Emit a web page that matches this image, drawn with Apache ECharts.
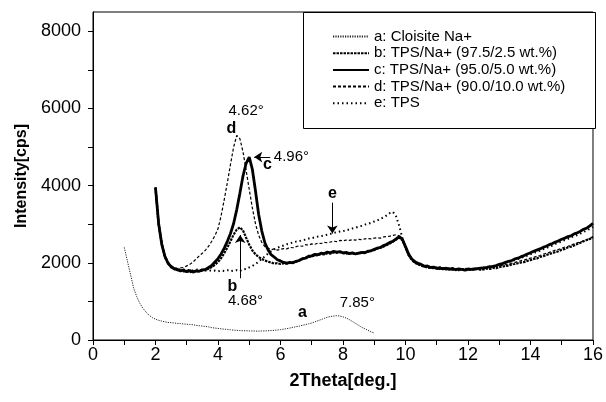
<!DOCTYPE html>
<html>
<head>
<meta charset="utf-8">
<script src="https://cdn.jsdelivr.net/npm/echarts@6/dist/echarts.min.js"></script>
<style>
  html, body { margin: 0; padding: 0; background: #fff; }
  #chart { width: 606px; height: 402px; }
</style>
</head>
<body>
<div id="chart"></div>
<script>
// XRD patterns of Cloisite Na+, TPS and TPS/Na+ composites
const seriesNames = [
  'a: Cloisite Na+',
  'b: TPS/Na+ (97.5/2.5 wt.%)',
  'c: TPS/Na+ (95.0/5.0 wt.%)',
  'd: TPS/Na+ (90.0/10.0 wt.%)',
  'e: TPS'
];

const xTicks = [0, 1, 2, 3, 4, 5, 6, 7, 8, 9, 10, 11, 12, 13, 14, 15, 16];
const xLabels = [0, 2, 4, 6, 8, 10, 12, 14, 16];
const yTicks = [0, 1000, 2000, 3000, 4000, 5000, 6000, 7000, 8000];
const yLabels = [0, 2000, 4000, 6000, 8000];

// a: Cloisite Na+, sampled every 0.1 deg from 1.0 to 9.0
const clayStart = 1.0, clayStep = 0.1;
const clay = [
  2400, 2050, 1700, 1350, 1120, 950, 820, 720, 640, 580,
  540, 510, 490, 470, 455, 450, 440, 430, 425, 415,
  410, 400, 395, 380, 370, 360, 350, 340, 320, 310,
  300, 290, 280, 275, 265, 255, 250, 245, 240, 240,
  235, 235, 230, 230, 235, 235, 240, 245, 250, 260,
  270, 280, 295, 310, 330, 345, 360, 380, 400, 420,
  440, 470, 500, 530, 560, 590, 610, 620, 630, 620,
  600, 570, 530, 480, 430, 380, 330, 290, 250, 210,
  180
];

// b-e: TPS based samples, every 0.1 deg from 2.0 to 16.0
const tpsStart = 2.0, tpsStep = 0.1;
const tpsNa25 = [
  3940, 3000, 2500, 2150, 2000, 1880, 1850, 1810, 1800, 1780,
  1790, 1760, 1780, 1770, 1800, 1790, 1820, 1850, 1890, 1950,
  2020, 2120, 2250, 2400, 2560, 2730, 2860, 2920, 2840, 2650,
  2470, 2320, 2220, 2150, 2100, 2060, 2030, 2010, 1980, 1990,
  1970, 1990, 1980, 2000, 2020, 2030, 2070, 2090, 2130, 2150,
  2170, 2190, 2200, 2230, 2220, 2250, 2240, 2270, 2260, 2280,
  2250, 2240, 2260, 2230, 2250, 2240, 2260, 2280, 2290, 2320,
  2330, 2370, 2390, 2420, 2460, 2500, 2550, 2600, 2650, 2590,
  2400, 2200, 2080, 2000, 1960, 1930, 1900, 1880, 1870, 1860,
  1880, 1840, 1860, 1830, 1850, 1820, 1840, 1810, 1830, 1820,
  1810, 1830, 1820, 1840, 1820, 1830, 1850, 1840, 1870, 1860,
  1890, 1900, 1920, 1930, 1960, 1970, 1990, 2010, 2020, 2050,
  2070, 2100, 2110, 2150, 2170, 2200, 2230, 2250, 2280, 2300,
  2340, 2360, 2400, 2420, 2450, 2490, 2520, 2560, 2590, 2620,
  2660
];
const tpsNa50 = [
  3950, 3020, 2480, 2170, 1990, 1900, 1840, 1830, 1790, 1810,
  1770, 1800, 1760, 1790, 1780, 1820, 1830, 1880, 1930, 2020,
  2110, 2230, 2380, 2560, 2760, 3020, 3380, 3800, 4250, 4580,
  4740, 4420, 3860, 3260, 2830, 2520, 2340, 2210, 2150, 2080,
  2050, 2010, 1990, 2010, 2000, 2040, 2060, 2110, 2120, 2170,
  2180, 2220, 2210, 2250, 2240, 2280, 2260, 2300, 2280, 2290,
  2260, 2270, 2240, 2260, 2230, 2250, 2270, 2260, 2300, 2310,
  2350, 2380, 2400, 2450, 2480, 2530, 2560, 2620, 2680, 2610,
  2420, 2230, 2100, 2030, 1990, 1960, 1910, 1920, 1880, 1890,
  1850, 1870, 1840, 1860, 1830, 1850, 1820, 1840, 1830, 1810,
  1840, 1830, 1840, 1850, 1860, 1870, 1880, 1900, 1910, 1930,
  1960, 1980, 2010, 2040, 2060, 2100, 2120, 2160, 2190, 2230,
  2260, 2300, 2330, 2360, 2400, 2430, 2470, 2500, 2540, 2570,
  2610, 2640, 2680, 2700, 2750, 2780, 2820, 2870, 2900, 2960,
  3020
];
const tpsNa100 = [
  3930, 3010, 2490, 2190, 2020, 1920, 1880, 1850, 1870, 1880,
  1920, 1960, 2020, 2100, 2180, 2250, 2330, 2430, 2560, 2700,
  2880, 3220, 3640, 4080, 4550, 5000, 5300, 5220, 4880, 4400,
  3900, 3420, 3010, 2720, 2530, 2420, 2380, 2340, 2360, 2330,
  2350, 2370, 2360, 2400, 2390, 2420, 2440, 2430, 2470, 2460,
  2490, 2480, 2510, 2500, 2530, 2520, 2540, 2560, 2550, 2580,
  2570, 2590, 2580, 2600, 2590, 2610, 2600, 2620, 2630, 2620,
  2640, 2650, 2640, 2670, 2680, 2690, 2710, 2730, 2700, 2620,
  2450, 2260, 2120, 2040, 1990, 1960, 1930, 1900, 1910, 1880,
  1870, 1890, 1860, 1880, 1850, 1870, 1850, 1860, 1840, 1860,
  1850, 1840, 1860, 1850, 1870, 1860, 1880, 1870, 1900, 1910,
  1920, 1940, 1950, 1980, 1990, 2010, 2030, 2060, 2070, 2100,
  2120, 2140, 2170, 2190, 2220, 2250, 2270, 2300, 2330, 2350,
  2380, 2410, 2430, 2460, 2490, 2520, 2540, 2570, 2600, 2630,
  2680
];
const tpsPure = [
  3960, 3030, 2510, 2180, 2010, 1910, 1860, 1840, 1820, 1830,
  1810, 1820, 1800, 1830, 1810, 1820, 1800, 1810, 1790, 1800,
  1780, 1800, 1790, 1810, 1780, 1800, 1810, 1790, 1830, 1840,
  1880, 1920, 1970, 2030, 2100, 2170, 2240, 2300, 2350, 2390,
  2420, 2450, 2480, 2500, 2530, 2550, 2560, 2590, 2600, 2630,
  2640, 2660, 2680, 2690, 2710, 2730, 2750, 2780, 2790, 2810,
  2820, 2850, 2860, 2890, 2910, 2940, 2960, 2990, 3010, 3040,
  3070, 3100, 3140, 3180, 3230, 3290, 3320, 3200, 2960, 2650,
  2400, 2200, 2080, 2010, 1970, 1940, 1920, 1900, 1890, 1870,
  1860, 1880, 1850, 1870, 1840, 1860, 1830, 1850, 1840, 1830,
  1850, 1830, 1840, 1860, 1850, 1870, 1880, 1900, 1910, 1930,
  1950, 1970, 2000, 2020, 2050, 2070, 2100, 2130, 2160, 2190,
  2220, 2250, 2290, 2310, 2350, 2380, 2420, 2450, 2490, 2520,
  2560, 2590, 2620, 2660, 2690, 2720, 2760, 2800, 2840, 2880,
  2930
];

// Peak annotations: [2theta, intensity, text, bold]
const notes = [
  [4.90, 5950, '4.62°', false],
  [4.43, 5480, 'd', true],
  [6.35, 4740, '4.96°', false],
  [5.58, 4550, 'c', true],
  [7.66, 3790, 'e', true],
  [4.46, 1380, 'b', true],
  [4.88, 1010, '4.68°', false],
  [6.70, 700, 'a', true],
  [8.46, 960, '7.85°', false]
];
// Pointer arrows: from [x, y] to [x, y]
const arrows = [
  [[5.67, 4740], [5.16, 4740]],
  [[4.71, 1600], [4.71, 2720]],
  [[7.66, 3560], [7.66, 2760]]
];

function toPairs(start, step, values) {
  return values.map((v, i) => [+(start + i * step).toFixed(2), v]);
}

const FONT = '"Liberation Sans", Arial, Helvetica, sans-serif';

function lineSeries(name, start, step, values, style, z) {
  return {
    name: name,
    type: 'line',
    data: toPairs(start, step, values),
    showSymbol: false,
    symbol: 'none',
    smooth: false,
    z: z,
    lineStyle: Object.assign({ color: '#000' }, style),
    itemStyle: { color: '#000' },
    emphasis: { disabled: true }
  };
}

const chart = echarts.init(document.getElementById('chart'), null, { renderer: 'canvas' });

chart.setOption({
  animation: false,
  backgroundColor: '#fff',
  textStyle: { fontFamily: FONT },
  grid: {
    left: 93, right: 13, top: 12, bottom: 62,
    show: true, borderColor: '#000', borderWidth: 1, backgroundColor: 'transparent'
  },
  legend: {
    data: seriesNames,
    orient: 'vertical',
    left: 332, top: 29,
    padding: 0,
    z: 20,
    itemWidth: 36, itemHeight: 12,
    itemGap: 1.7,
    selectedMode: false,
    itemStyle: { opacity: 0 },
    textStyle: { fontFamily: FONT, fontSize: 15, color: '#000', lineHeight: 14 }
  },
  xAxis: {
    type: 'value', min: 0, max: 16, interval: 2,
    name: '2Theta[deg.]', nameLocation: 'middle', nameGap: 32,
    nameTextStyle: { fontFamily: FONT, fontSize: 18, fontWeight: 'bold', color: '#000' },
    axisLine: { show: true, onZero: false, lineStyle: { color: '#000', width: 1 } },
    axisTick: { show: true, inside: false, length: 5, customValues: xTicks, lineStyle: { color: '#000' } },
    axisLabel: { customValues: xLabels, margin: 6, fontSize: 18, color: '#000', fontFamily: FONT,
                 formatter: v => String(v) },
    splitLine: { show: false }
  },
  yAxis: {
    type: 'value', min: 0, max: 8500, interval: 2000,
    name: 'Intensity[cps]', nameLocation: 'middle', nameGap: 60,
    nameTextStyle: { fontFamily: FONT, fontSize: 16, fontWeight: 'bold', color: '#000' },
    axisLine: { show: true, onZero: false, lineStyle: { color: '#000', width: 1 } },
    axisTick: { show: true, inside: false, length: 5, customValues: yTicks, lineStyle: { color: '#000' } },
    axisLabel: { customValues: yLabels, margin: 12, fontSize: 18, color: '#000', fontFamily: FONT,
                 formatter: v => String(v) },
    splitLine: { show: false }
  },
  graphic: [{
    type: 'rect',
    shape: { x: 303.5, y: 12.5, width: 292, height: 116 },
    style: { fill: '#fff', stroke: '#000', lineWidth: 1 },
    z: 1, silent: true
  }],
  series: [
    lineSeries(seriesNames[0], clayStart, clayStep, clay, { width: 1, type: [1.2, 1.2], color: '#222' }, 2),
    lineSeries(seriesNames[1], tpsStart, tpsStep, tpsNa25, { width: 2.2, type: [2.5, 1] }, 3),
    lineSeries(seriesNames[2], tpsStart, tpsStep, tpsNa50, { width: 2.8, type: 'solid' }, 4),
    lineSeries(seriesNames[3], tpsStart, tpsStep, tpsNa100, { width: 1.2, type: [3, 2] }, 3),
    lineSeries(seriesNames[4], tpsStart, tpsStep, tpsPure, { width: 2, type: [1.5, 3] }, 3),
    {
      name: 'notes',
      type: 'scatter',
      symbolSize: 0,
      silent: true,
      z: 10,
      itemStyle: { opacity: 1, color: '#000' },
      data: notes.map(n => ({
        value: [n[0], n[1]],
        label: {
          show: true, position: 'inside', formatter: n[2],
          fontFamily: FONT,
          fontSize: n[3] ? 16 : 15,
          fontWeight: n[3] ? 'bold' : 'normal',
          color: '#000', opacity: 1,
          textBorderWidth: 0
        }
      }))
    },
    {
      name: 'pointers',
      type: 'line',
      data: [],
      silent: true,
      z: 10,
      markLine: {
        silent: true,
        symbol: ['none', 'arrow'],
        symbolSize: 8,
        label: { show: false },
        lineStyle: { color: '#000', width: 1, type: 'solid', opacity: 1 },
        itemStyle: { color: '#000', opacity: 1 },
        emphasis: { disabled: true },
        data: arrows.map(a => [{ coord: a[0] }, { coord: a[1] }])
      }
    }
  ]
});
</script>
</body>
</html>
